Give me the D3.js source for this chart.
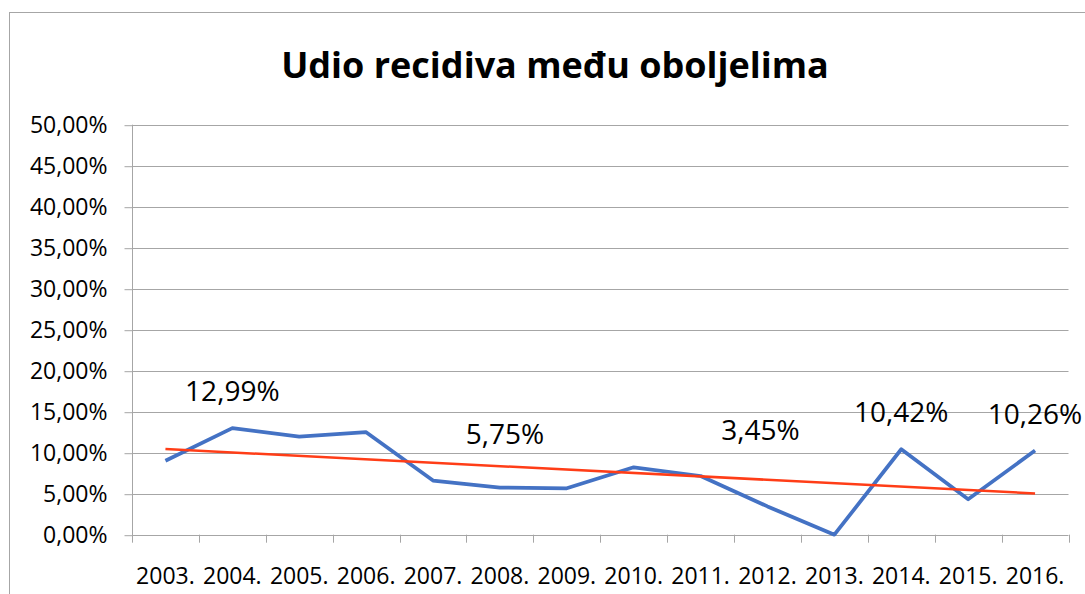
<!DOCTYPE html>
<html>
<head>
<meta charset="utf-8">
<script src="https://cdn.jsdelivr.net/npm/d3@7"></script>
<style>
  html, body { margin: 0; padding: 0; background: #fff; }
  svg { display: block; font-family: "Open Sans", sans-serif; }
</style>
</head>
<body>
<svg id="chart" width="1085" height="594"></svg>
<script>
// Share of relapses among patients, by year
const years = ["2003.", "2004.", "2005.", "2006.", "2007.", "2008.", "2009.",
               "2010.", "2011.", "2012.", "2013.", "2014.", "2015.", "2016."];
const shares = [0.0902, 0.1299, 0.1195, 0.1250, 0.0660, 0.0575, 0.0566,
                0.0822, 0.0716, 0.0345, 0.0000, 0.1042, 0.0432, 0.1026];
// years whose value is printed above the line
const labelledYears = ["2004.", "2008.", "2012.", "2014.", "2016."];
const yTicks = [0, 0.05, 0.10, 0.15, 0.20, 0.25, 0.30, 0.35, 0.40, 0.45, 0.50];

// hand-placed label nudges (pixels) relative to the default spot above the point
const labelNudge = { "2008.": [5, -17], "2012.": [-7, -39] };

const svg = d3.select("#chart");
const plotLeft = 132, plotRight = 1068.5, plotTop = 124.7, plotBottom = 534.7;

const x = d3.scaleBand().domain(years).range([plotLeft, plotRight]).padding(0);
const y = d3.scaleLinear().domain([0, 0.5]).range([plotBottom, plotTop]);
const cx = d => x(d) + x.bandwidth() / 2;
const pct = v => d3.format(".2f")(v * 100).replace(".", ",") + "%";

// chart frame
svg.append("rect")
  .attr("x", 9.5).attr("y", 12.5)
  .attr("width", 1200).attr("height", 700)
  .attr("fill", "none").attr("stroke", "#A6A6A6").attr("stroke-width", 1);

// title
svg.append("text")
  .attr("x", 555).attr("y", 78)
  .attr("text-anchor", "middle")
  .attr("font-size", 36).attr("font-weight", 700)
  .attr("fill", "#000")
  .text("Udio recidiva među oboljelima");

// horizontal gridlines
svg.append("g")
  .selectAll("line")
  .data(yTicks)
  .join("line")
  .attr("x1", plotLeft).attr("x2", plotRight)
  .attr("y1", d => Math.round(y(d)) + 0.5).attr("y2", d => Math.round(y(d)) + 0.5)
  .attr("stroke", "#A6A6A6").attr("stroke-width", 1);

// y axis
const yAxis = d3.axisLeft(y)
  .tickValues(yTicks)
  .tickSize(8).tickSizeOuter(0).tickPadding(17)
  .tickFormat(pct);
const gy = svg.append("g")
  .attr("transform", `translate(${plotLeft + 0.5},0)`)
  .call(yAxis);
gy.select(".domain").remove();
gy.selectAll(".tick line").attr("stroke", "#A6A6A6")
  .attr("transform", "translate(0,0.5)");
gy.selectAll(".tick text")
  .attr("font-size", 23).attr("font-family", "Open Sans")
  .attr("fill", "#000").attr("dy", "0.36em");
svg.append("line")
  .attr("x1", plotLeft + 0.5).attr("x2", plotLeft + 0.5)
  .attr("y1", plotTop).attr("y2", plotBottom + 8)
  .attr("stroke", "#A6A6A6");

// x axis: labels at band centres, ticks at band edges
const xAxis = d3.axisBottom(x).tickSize(0).tickPadding(0);
const gx = svg.append("g")
  .attr("transform", `translate(0,${plotBottom})`)
  .call(xAxis);
gx.select(".domain").remove();
gx.selectAll(".tick text")
  .attr("font-size", 23).attr("font-family", "Open Sans")
  .attr("fill", "#000").attr("y", 49).attr("dy", 0);
svg.append("g")
  .selectAll("line")
  .data(years.map(d => x(d)).concat([plotRight]).slice(1))
  .join("line")
  .attr("x1", d => Math.round(d) + 0.5).attr("x2", d => Math.round(d) + 0.5)
  .attr("y1", plotBottom).attr("y2", plotBottom + 8)
  .attr("stroke", "#A6A6A6");

// least-squares linear trend over the series
const n = shares.length;
const idx = d3.range(1, n + 1);
const mx = d3.mean(idx), my = d3.mean(shares);
const slope = d3.sum(idx, (k, i) => (k - mx) * (shares[i] - my)) /
              d3.sum(idx, k => (k - mx) * (k - mx));
const trendAt = k => my + slope * (k - mx);

const line = d3.line().x(d => cx(d.year)).y(d => y(d.v));
const points = years.map((yr, i) => ({ year: yr, v: shares[i] }));

svg.append("path")
  .datum(points)
  .attr("d", line)
  .attr("fill", "none")
  .attr("stroke", "#4472C4").attr("stroke-width", 3.75)
  .attr("stroke-linejoin", "round");

svg.append("path")
  .datum([{ year: years[0], v: trendAt(1) }, { year: years[n - 1], v: trendAt(n) }])
  .attr("d", line)
  .attr("fill", "none")
  .attr("stroke", "#FF3D17").attr("stroke-width", 2.5);

// value labels
svg.append("g")
  .selectAll("text")
  .data(points.filter(p => labelledYears.includes(p.year)))
  .join("text")
  .attr("x", d => cx(d.year) + (labelNudge[d.year] ? labelNudge[d.year][0] : 0))
  .attr("y", d => y(d.v) - 27 + (labelNudge[d.year] ? labelNudge[d.year][1] : 0))
  .attr("text-anchor", "middle")
  .attr("font-size", 28).attr("fill", "#000")
  .text(d => pct(d.v));
</script>
</body>
</html>
